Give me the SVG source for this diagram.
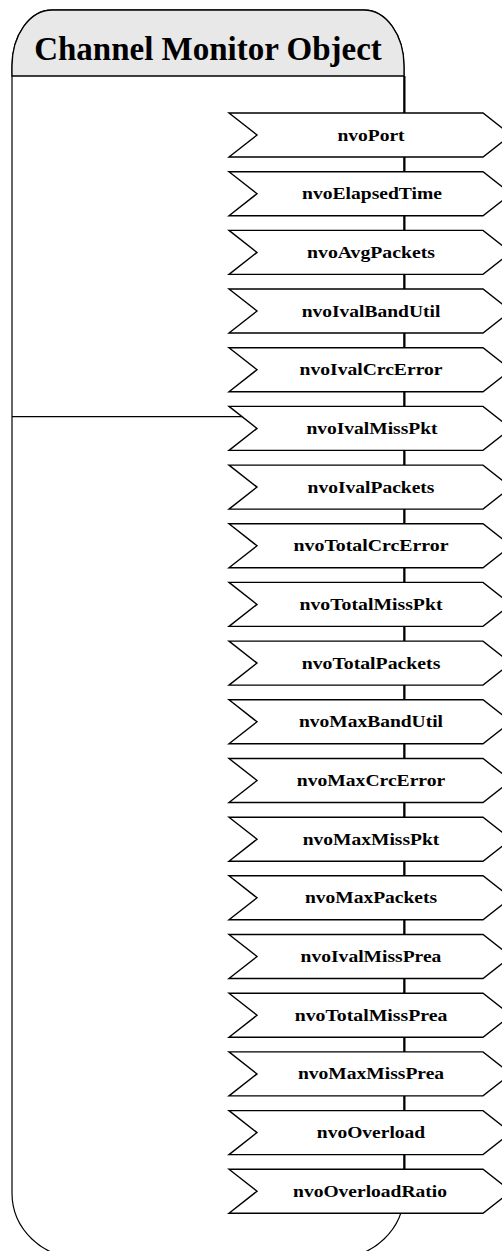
<svg xmlns="http://www.w3.org/2000/svg" width="502" height="1251" viewBox="0 0 502 1251">
<style>
.body{fill:#ffffff;stroke:#000;stroke-width:1.2}
.hdr{fill:#e8e8e8;stroke:#000;stroke-width:1.3}
.title{font-family:"Liberation Serif","Times New Roman",serif;font-weight:bold;font-size:33px;fill:#000;text-anchor:middle}
.port polygon{fill:#fff;stroke:#000;stroke-width:1.4}
.port text{font-family:"Liberation Serif","Times New Roman",serif;font-weight:bold;font-size:17px;fill:#000;text-anchor:middle}
.conn{stroke:#000;stroke-width:2;fill:none}
</style>
<g id="channel-monitor-object">
<path class="body" d="M12,66 A40,56 0 0 1 52,10 L364,10 A40,56 0 0 1 404,66 L404,1193 A68,65 0 0 1 336,1258 L80,1258 A68,65 0 0 1 12,1193 Z"/>
<path class="hdr" d="M12,76 L12,66 A40,56 0 0 1 52,10 L364,10 A40,56 0 0 1 404,66 L404,76 Z"/>
<text class="title" x="208" y="59.5">Channel Monitor Object</text>
<line x1="12" y1="416.7" x2="404" y2="416.7" stroke="#000" stroke-width="1.3"/>
</g>
<g id="connectors">
<line class="conn" x1="404.5" y1="76" x2="404.5" y2="1213"/>
</g>
<g id="nvoPort" class="port"><polygon points="229,113 483,113 511,135 483,157 229,157 257,135"/><text x="371" y="140.5" textLength="67.2" lengthAdjust="spacingAndGlyphs">nvoPort</text></g>
<g id="nvoElapsedTime" class="port"><polygon points="229,171.7 483,171.7 511,193.7 483,215.7 229,215.7 257,193.7"/><text x="372" y="199.2" textLength="139.8" lengthAdjust="spacingAndGlyphs">nvoElapsedTime</text></g>
<g id="nvoAvgPackets" class="port"><polygon points="229,230.4 483,230.4 511,252.4 483,274.4 229,274.4 257,252.4"/><text x="371" y="257.9" textLength="127.8" lengthAdjust="spacingAndGlyphs">nvoAvgPackets</text></g>
<g id="nvoIvalBandUtil" class="port"><polygon points="229,289 483,289 511,311 483,333 229,333 257,311"/><text x="371" y="316.5" textLength="138.7" lengthAdjust="spacingAndGlyphs">nvoIvalBandUtil</text></g>
<g id="nvoIvalCrcError" class="port"><polygon points="229,347.7 483,347.7 511,369.7 483,391.7 229,391.7 257,369.7"/><text x="371" y="375.2" textLength="143" lengthAdjust="spacingAndGlyphs">nvoIvalCrcError</text></g>
<g id="nvoIvalMissPkt" class="port"><polygon points="229,406.4 483,406.4 511,428.4 483,450.4 229,450.4 257,428.4"/><text x="372" y="433.9" textLength="131.1" lengthAdjust="spacingAndGlyphs">nvoIvalMissPkt</text></g>
<g id="nvoIvalPackets" class="port"><polygon points="229,465.1 483,465.1 511,487.1 483,509.1 229,509.1 257,487.1"/><text x="371" y="492.6" textLength="126.8" lengthAdjust="spacingAndGlyphs">nvoIvalPackets</text></g>
<g id="nvoTotalCrcError" class="port"><polygon points="229,523.8 483,523.8 511,545.8 483,567.8 229,567.8 257,545.8"/><text x="371" y="551.3" textLength="154.9" lengthAdjust="spacingAndGlyphs">nvoTotalCrcError</text></g>
<g id="nvoTotalMissPkt" class="port"><polygon points="229,582.4 483,582.4 511,604.4 483,626.4 229,626.4 257,604.4"/><text x="371" y="609.9" textLength="143" lengthAdjust="spacingAndGlyphs">nvoTotalMissPkt</text></g>
<g id="nvoTotalPackets" class="port"><polygon points="229,641.1 483,641.1 511,663.1 483,685.1 229,685.1 257,663.1"/><text x="371" y="668.6" textLength="138.7" lengthAdjust="spacingAndGlyphs">nvoTotalPackets</text></g>
<g id="nvoMaxBandUtil" class="port"><polygon points="229,699.8 483,699.8 511,721.8 483,743.8 229,743.8 257,721.8"/><text x="371" y="727.3" textLength="144.1" lengthAdjust="spacingAndGlyphs">nvoMaxBandUtil</text></g>
<g id="nvoMaxCrcError" class="port"><polygon points="229,758.5 483,758.5 511,780.5 483,802.5 229,802.5 257,780.5"/><text x="371" y="786" textLength="148.4" lengthAdjust="spacingAndGlyphs">nvoMaxCrcError</text></g>
<g id="nvoMaxMissPkt" class="port"><polygon points="229,817.2 483,817.2 511,839.2 483,861.2 229,861.2 257,839.2"/><text x="371" y="844.7" textLength="136.5" lengthAdjust="spacingAndGlyphs">nvoMaxMissPkt</text></g>
<g id="nvoMaxPackets" class="port"><polygon points="229,875.8 483,875.8 511,897.8 483,919.8 229,919.8 257,897.8"/><text x="371" y="903.3" textLength="132.2" lengthAdjust="spacingAndGlyphs">nvoMaxPackets</text></g>
<g id="nvoIvalMissPrea" class="port"><polygon points="229,934.5 483,934.5 511,956.5 483,978.5 229,978.5 257,956.5"/><text x="371" y="962" textLength="140.8" lengthAdjust="spacingAndGlyphs">nvoIvalMissPrea</text></g>
<g id="nvoTotalMissPrea" class="port"><polygon points="229,993.2 483,993.2 511,1015.2 483,1037.2 229,1037.2 257,1015.2"/><text x="371" y="1020.7" textLength="152.7" lengthAdjust="spacingAndGlyphs">nvoTotalMissPrea</text></g>
<g id="nvoMaxMissPrea" class="port"><polygon points="229,1051.9 483,1051.9 511,1073.9 483,1095.9 229,1095.9 257,1073.9"/><text x="371" y="1079.4" textLength="146.2" lengthAdjust="spacingAndGlyphs">nvoMaxMissPrea</text></g>
<g id="nvoOverload" class="port"><polygon points="229,1110.6 483,1110.6 511,1132.6 483,1154.6 229,1154.6 257,1132.6"/><text x="371" y="1138.1" textLength="108.3" lengthAdjust="spacingAndGlyphs">nvoOverload</text></g>
<g id="nvoOverloadRatio" class="port"><polygon points="229,1169.2 483,1169.2 511,1191.2 483,1213.2 229,1213.2 257,1191.2"/><text x="370" y="1196.7" textLength="153.8" lengthAdjust="spacingAndGlyphs">nvoOverloadRatio</text></g>
</svg>
